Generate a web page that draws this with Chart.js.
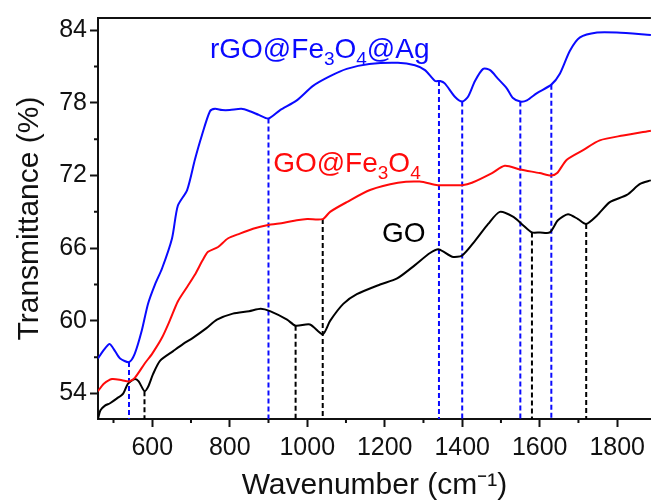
<!DOCTYPE html>
<html lang="en">
<head>
<meta charset="UTF-8" />
<title>FTIR spectra</title>
<style>
  html, body { margin: 0; padding: 0; background: #fff; overflow: hidden; }
  .wrap { position: relative; width: 651px; height: 504px; }
</style>
</head>
<body>
<div class="wrap"><canvas id="ftir"></canvas></div>
<script src="https://cdn.jsdelivr.net/npm/chart.js"></script>
<script>
  const FONT = '"Liberation Sans", Arial, sans-serif';

  // rGO@Fe3O4@Ag
  const agWave = [460, 475, 490, 504, 517, 540, 555, 573, 589, 607, 625, 651, 666, 690, 710, 728, 749, 762, 780, 800,
    830, 852, 875, 900, 930, 973, 1015, 1059, 1102, 1160, 1234, 1278, 1304, 1330, 1343, 1355, 1381, 1400, 1415, 1433,
    1454, 1472, 1492, 1515, 1531, 1550, 1567, 1593, 1630, 1652, 1678, 1704, 1748, 1799, 1887];
  const agT = [56.9, 57.6, 58.1, 57.5, 56.9, 56.6, 57.3, 59.2, 61.4, 63.0, 64.3, 66.8, 69.5, 70.8, 73.3, 75.3, 77.3, 77.5, 77.4, 77.4,
    77.5, 77.3, 77.0, 76.7, 77.4, 78.2, 79.4, 80.2, 80.8, 81.2, 81.3, 81.1, 80.7, 79.8, 79.8, 79.6, 78.5, 78.1, 78.5, 79.8,
    80.8, 80.7, 80.0, 79.2, 78.4, 78.1, 78.2, 78.8, 79.5, 80.4, 82.3, 83.4, 83.8, 83.8, 83.6];

  // GO@Fe3O4
  const feWave = [460, 475, 496, 522, 540, 555, 581, 600, 625, 645, 666, 690, 710, 730, 744, 770, 795, 826, 860, 896,
    940, 973, 1000, 1040, 1059, 1102, 1162, 1234, 1290, 1337, 1370, 1400, 1425, 1477, 1510, 1549, 1600, 1630, 1645, 1670,
    1712, 1755, 1815, 1887];
  const feT = [54.2, 54.8, 55.2, 55.1, 55.0, 55.3, 56.5, 57.3, 58.6, 60.0, 61.6, 62.8, 63.8, 65.0, 65.7, 66.1, 66.8, 67.2, 67.6, 67.9,
    68.1, 68.3, 68.4, 68.4, 69.0, 69.8, 70.8, 71.4, 71.5, 71.2, 71.2, 71.2, 71.4, 72.2, 72.8, 72.5, 72.2, 72.0, 72.2, 73.3,
    74.1, 74.9, 75.3, 75.7];

  // GO
  const goWave = [460, 466, 478, 491, 509, 525, 537, 555, 565, 580, 590, 602, 620, 654, 680, 705, 740, 767, 808, 850,
    880, 904, 948, 970, 1007, 1040, 1059, 1093, 1128, 1188, 1232, 1278, 1317, 1340, 1374, 1400, 1433, 1467, 1497, 1531,
    1557, 1580, 1601, 1626, 1647, 1673, 1699, 1720, 1748, 1781, 1825, 1859, 1887];
  const goT = [51.9, 52.6, 53.0, 53.2, 53.6, 54.0, 54.8, 55.2, 55.0, 54.2, 54.6, 55.6, 56.7, 57.5, 58.1, 58.6, 59.4, 60.1, 60.6, 60.8,
    61.0, 60.8, 60.1, 59.6, 59.7, 58.9, 60.0, 61.4, 62.2, 63.0, 63.5, 64.6, 65.6, 65.9, 65.3, 65.4, 66.6, 68.0, 69.0, 68.6,
    67.9, 67.3, 67.3, 67.3, 68.3, 68.8, 68.4, 68.0, 68.7, 69.8, 70.4, 71.3, 71.6];

  // band markers (cm-1)
  const agBands = [540, 900, 1340, 1400, 1550, 1630];
  const goBands = [580, 970, 1580, 1720];
  const feBands = [1040];

  // axes
  const xTicks = [600, 800, 1000, 1200, 1400, 1600, 1800];
  const xMinor = [500, 700, 900, 1100, 1300, 1500, 1700];
  const yTicks = [54, 60, 66, 72, 78, 84];
  const yMinor = [57, 63, 69, 75, 81];
  const xMin = 460, xMax = 1887, yMin = 51.9, yMax = 85;

  const BLUE = '#0a0aff', RED = '#ff0a0a', BLACK = '#000000', AXIS = '#111111';

  function pts(w, t) {
    return w.map((v, i) => ({ x: v, y: t[i] }));
  }

  function valueAt(w, t, x) {
    for (let i = 1; i < w.length; i++) {
      if (x <= w[i]) {
        const f = (x - w[i - 1]) / (w[i] - w[i - 1]);
        return t[i - 1] + f * (t[i] - t[i - 1]);
      }
    }
    return t[t.length - 1];
  }

  function curve(label, w, t, color) {
    return {
      label, data: pts(w, t), borderColor: color, borderWidth: 2,
      pointRadius: 0, tension: 0.25, fill: false
    };
  }

  function marker(x, top, color) {
    return {
      label: 'band ' + x, data: [{ x, y: top }, { x, y: yMin }],
      borderColor: color, borderWidth: 2, borderDash: [5, 3],
      pointRadius: 0, tension: 0, fill: false
    };
  }

  const datasets = [
    curve('rGO@Fe3O4@Ag', agWave, agT, BLUE),
    curve('GO@Fe3O4', feWave, feT, RED),
    curve('GO', goWave, goT, BLACK)
  ];
  agBands.forEach(b => datasets.push(marker(b, valueAt(agWave, agT, b), BLUE)));
  goBands.forEach(b => datasets.push(marker(b, valueAt(goWave, goT, b), BLACK)));
  feBands.forEach(b => datasets.push(marker(b, valueAt(feWave, feT, b), BLACK)));

  // curve names, "_" marks a subscript digit
  const names = [
    { text: 'rGO@Fe_3O_4@Ag', x: 749, y: 81.7, color: BLUE },
    { text: 'GO@Fe_3O_4', x: 912, y: 72.3, color: RED },
    { text: 'GO', x: 1193, y: 66.5, color: BLACK }
  ];

  const extras = {
    id: 'extras',
    afterDraw(chart) {
      const { ctx, chartArea: area, scales: { x, y } } = chart;
      ctx.save();
      ctx.strokeStyle = AXIS;
      ctx.lineWidth = 2;
      ctx.beginPath();
      xMinor.forEach(v => {
        if (v < xMin || v > xMax) return;
        const px = x.getPixelForValue(v);
        ctx.moveTo(px, area.bottom);
        ctx.lineTo(px, area.bottom + 4);
      });
      yMinor.forEach(v => {
        const py = y.getPixelForValue(v);
        ctx.moveTo(area.left, py);
        ctx.lineTo(area.left - 4, py);
      });
      ctx.moveTo(area.left - 1, area.top);
      ctx.lineTo(area.right, area.top);
      ctx.stroke();

      ctx.textBaseline = 'alphabetic';
      names.forEach(n => {
        let px = x.getPixelForValue(n.x);
        const py = y.getPixelForValue(n.y);
        ctx.fillStyle = n.color;
        const parts = n.text.split(/(_\d)/).filter(s => s.length);
        parts.forEach(p => {
          if (p[0] === '_') {
            ctx.font = '19px ' + FONT;
            ctx.fillText(p.slice(1), px, py + 7);
            px += ctx.measureText(p.slice(1)).width;
          } else {
            ctx.font = '28px ' + FONT;
            ctx.fillText(p, px, py);
            px += ctx.measureText(p).width;
          }
        });
      });
      ctx.restore();
    }
  };

  new Chart(document.getElementById('ftir'), {
    type: 'line',
    data: { datasets },
    options: {
      responsive: true,
      maintainAspectRatio: false,
      animation: false,
      layout: { padding: { top: 14, right: 0, left: 0, bottom: 0 } },
      plugins: { legend: { display: false }, tooltip: { enabled: false } },
      scales: {
        x: {
          type: 'linear', min: xMin, max: xMax,
          afterBuildTicks: s => { s.ticks = xTicks.map(v => ({ value: v })); },
          afterFit: s => { s.height = 85; },
          grid: { drawOnChartArea: false, drawTicks: true, tickLength: 8, tickWidth: 2, tickColor: AXIS },
          border: { display: true, color: AXIS, width: 2 },
          ticks: {
            color: AXIS, font: { family: FONT, size: 25 }, padding: 6, maxRotation: 0, autoSkip: false,
            callback: v => String(v)
          },
          title: { display: true, text: 'Wavenumber (cm⁻¹)', color: AXIS, font: { family: FONT, size: 30 }, padding: 0 }
        },
        y: {
          type: 'linear', min: yMin, max: yMax,
          afterBuildTicks: s => { s.ticks = yTicks.map(v => ({ value: v })); },
          afterFit: s => { s.width = 98; },
          grid: { drawOnChartArea: false, drawTicks: true, tickLength: 8, tickWidth: 2, tickColor: AXIS },
          border: { display: true, color: AXIS, width: 2 },
          ticks: { color: AXIS, font: { family: FONT, size: 25 }, padding: 3, callback: v => String(v) },
          title: { display: true, text: 'Transmittance (%)', color: AXIS, font: { family: FONT, size: 30 }, padding: { top: 12, bottom: 0 } }
        }
      }
    },
    plugins: [extras]
  });
</script>
</body>
</html>
